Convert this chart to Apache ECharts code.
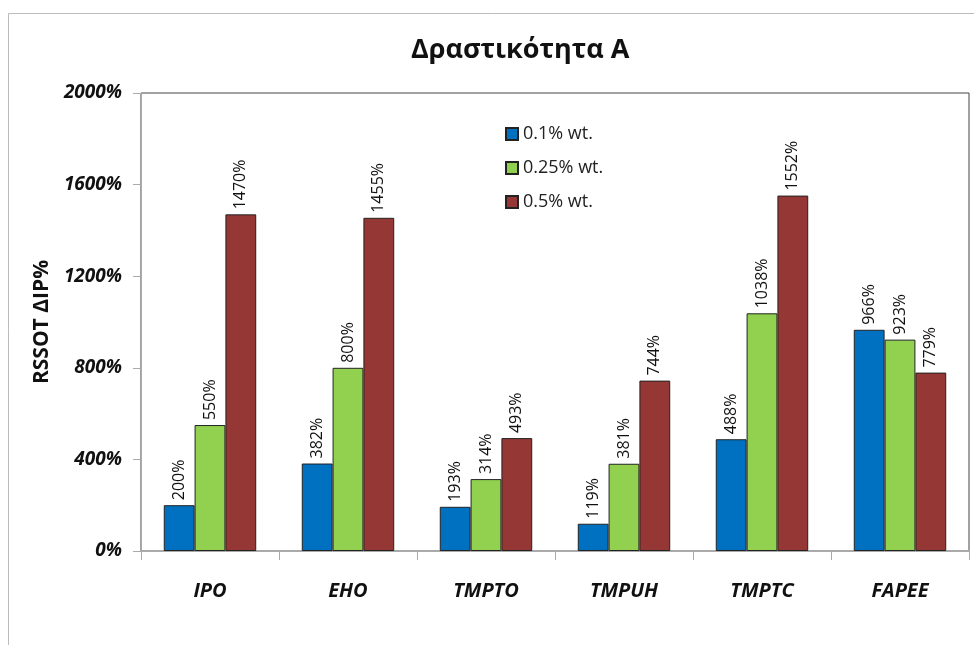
<!DOCTYPE html>
<html>
<head>
<meta charset="utf-8">
<script src="https://cdn.jsdelivr.net/npm/echarts@6/dist/echarts.min.js"></script>
<style>
  html, body { margin: 0; padding: 0; background: #fff; }
  #chart { width: 974px; height: 645px; }
</style>
</head>
<body>
<div id="chart"></div>
<script>
// categories and values
const categories = ['IPO', 'EHO', 'TMPTO', 'TMPUH', 'TMPTC', 'FAPEE']
const seriesNames = ['0.1% wt.', '0.25% wt.', '0.5% wt.']
const low = [200, 382, 193, 119, 488, 966]
const mid = [550, 800, 314, 381, 1038, 923]
const high = [1470, 1455, 493, 744, 1552, 779]
const yTicks = [0, 400, 800, 1200, 1600, 2000]

const colors = ['#0070c0', '#92d050', '#953735']
const font = 'Open Sans, Liberation Sans, sans-serif'

const chart = echarts.init(document.getElementById('chart'))

function barSeries(name, data, color) {
  return {
    name,
    type: 'bar',
    data,
    barGap: '0%',
    barCategoryGap: '33%',
    itemStyle: { color, borderColor: '#222', borderWidth: 1 },
    label: {
      show: true,
      position: 'top',
      rotate: 90,
      align: 'left',
      verticalAlign: 'middle',
      distance: 5,
      formatter: p => p.value + '%',
      fontFamily: font,
      fontSize: 16,
      color: '#111'
    }
  }
}

chart.setOption({
  backgroundColor: '#fff',
  animation: false,
  title: {
    text: 'Δραστικότητα Α',
    left: 406,
    top: 32,
    textStyle: { fontFamily: font, fontSize: 27, fontWeight: 'bold', color: '#111' }
  },
  graphic: [{
    type: 'rect',
    shape: { x: 8.5, y: 13.5, width: 1000, height: 700 },
    style: { fill: 'none', stroke: '#bbb', lineWidth: 1 },
    silent: true
  }],
  legend: {
    orient: 'vertical',
    left: 500,
    top: 118,
    itemWidth: 12,
    itemHeight: 12,
    itemGap: 12,
    icon: 'rect',
    data: seriesNames,
    textStyle: { fontFamily: font, fontSize: 18, color: '#222', lineHeight: 22 }
  },
  grid: {
    left: 141, right: 5, top: 93, bottom: 94,
    show: true, borderColor: '#444', borderWidth: 1
  },
  xAxis: {
    type: 'category',
    data: categories,
    axisLine: { lineStyle: { color: '#aaa', width: 2 } },
    axisTick: { show: true, length: 9, lineStyle: { color: '#aaa' } },
    axisLabel: {
      margin: 30,
      fontFamily: font, fontSize: 20, fontWeight: 'bold', fontStyle: 'italic', color: '#111'
    }
  },
  yAxis: {
    type: 'value',
    min: 0,
    max: 2000,
    interval: 400,
    name: 'RSSOT ΔIP%',
    nameLocation: 'middle',
    nameRotate: 90,
    nameGap: 85,
    nameTextStyle: { fontFamily: font, fontSize: 21, fontWeight: 'bold', color: '#111' },
    axisLine: { show: true, lineStyle: { color: '#aaa' } },
    axisTick: { show: true, inside: false, length: 8, lineStyle: { color: '#aaa' } },
    splitLine: { show: false },
    axisLabel: {
      margin: 19,
      fontFamily: font, fontSize: 19, fontWeight: 'bold', fontStyle: 'italic', color: '#111',
      formatter: v => yTicks.includes(v) ? v + '%' : ''
    }
  },
  series: [
    barSeries(seriesNames[0], low, colors[0]),
    barSeries(seriesNames[1], mid, colors[1]),
    barSeries(seriesNames[2], high, colors[2])
  ]
})
</script>
</body>
</html>
